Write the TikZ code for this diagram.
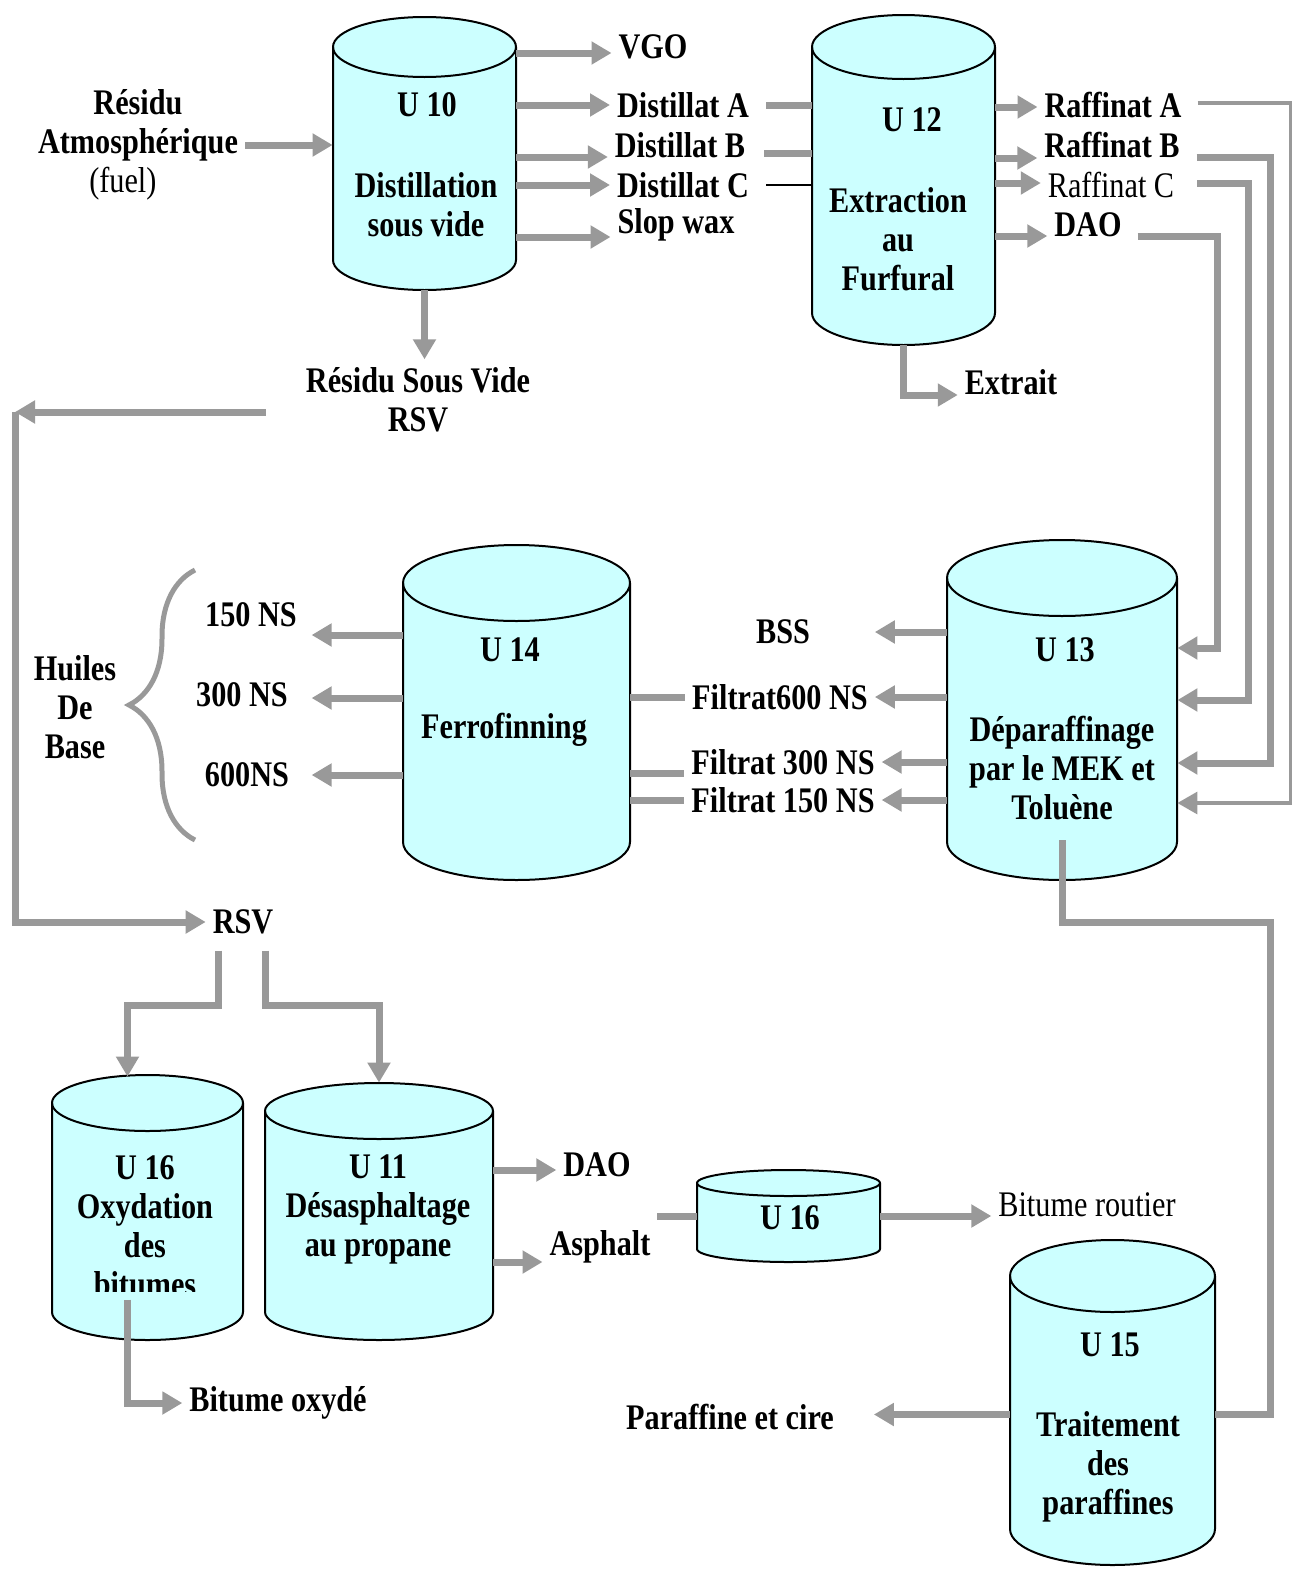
\documentclass[tikz,border=0pt]{standalone}
\usepackage{fontspec}
\setmainfont{Liberation Serif}
\usetikzlibrary{arrows.meta}
\usetikzlibrary{calc}
\usetikzlibrary{fit}
\usetikzlibrary{decorations.pathreplacing}

\definecolor{tankcyan}{HTML}{CCFFFF}
\definecolor{flowgrey}{HTML}{999999}

\tikzset{
  tank/.style={draw=black, line width=1pt, fill=tankcyan},
  lbl/.style={font=\fontsize{18}{19.5}\selectfont\bfseries, xscale=0.84, inner sep=4pt, align=center},
  lightlbl/.style={lbl, font=\fontsize{18}{19.5}\selectfont},
  pipe/.style={draw=flowgrey, line width=3.5pt},
  flow/.style={pipe, -{Triangle[length=10pt,width=11pt]}},
  thinflow/.style={draw=flowgrey, line width=1.6pt, -{Triangle[length=10pt,width=11pt]}},
}

% name, left, right, top, bottom, half height of the cap
\newcommand{\tank}[6]{%
  \node[fit={(#2,#4) (#3,#5)}, inner sep=0pt] (#1) {};
  \filldraw[tank] (#2,#4+#6) -- (#2,#5-#6)
    arc[start angle=180, end angle=0, x radius={(#3-#2)/2}, y radius=#6]
    -- (#3,#4+#6)
    arc[start angle=0, end angle=-180, x radius={(#3-#2)/2}, y radius=#6] -- cycle;
  \draw[tank, fill=none] (#2,#4+#6)
    arc[start angle=180, end angle=0, x radius={(#3-#2)/2}, y radius=#6];
}

\begin{document}
\begin{tikzpicture}[x=0.5pt,y=-0.5pt]
\useasboundingbox (0,0) rectangle (1294,1569);

% units
\tank{u10}{333}{516}{17}{290}{30}
\tank{u12}{812}{995}{15}{345}{32}
\tank{u14}{403}{630}{545}{880}{38}
\tank{u13}{947}{1177}{540}{880}{38}
\tank{u16a}{52}{243}{1075}{1340}{28}
\tank{u11}{265}{493}{1083}{1340}{28}
\tank{u16b}{697}{880}{1170}{1262}{13}
\tank{u15}{1010}{1215}{1240}{1565}{36}

\node[lbl] (n10) at (427,105) {U 10};
\node[lbl] (d10) at (426,205) {Distillation\\sous vide};
\node[lbl] (n12) at (912,120) {U 12};
\node[lbl] (d12) at (898,239) {Extraction\\au\\Furfural};
\node[lbl] (n14) at (510,650) {U 14};
\node[lbl] (d14) at (504,730) {Ferrofinning};
\node[lbl] (n13) at (1065,650) {U 13};
\node[lbl] (d13) at (1062,768) {Déparaffinage\\par le MEK et\\Toluène};
\begin{scope}
  \clip (52,1075) rectangle (243,1291);
  \node[lbl] (d16) at (145,1226) {U 16\\Oxydation\\des\\bitumes};
\end{scope}
\node[lbl] (d11) at (378,1209) {U 11\\Désasphaltage\\au propane};
\node[lbl] (n16) at (790,1218) {U 16};
\node[lbl] (n15) at (1110,1345) {U 15};
\node[lbl] (d15) at (1108,1467) {Traitement\\des\\paraffines};

% products and feeds
\node[lbl] (res) at (138,145) {Résidu\\Atmosphérique\\{\mdseries(fuel)}\hspace*{18pt}};
\node[lbl] (vgo) at (653,47) {VGO};
\node[lbl] (dista) at (683,105) {Distillat A};
\node[lbl] (distb) at (680,145) {Distillat B};
\node[lbl] (distc) at (683,185) {Distillat C};
\node[lbl] (slop) at (676,225) {Slop wax};
\node[lbl] (rafa) at (1113,105) {Raffinat A};
\node[lbl] (rafb) at (1112,145) {Raffinat B};
\node[lightlbl] (rafc) at (1111,185) {Raffinat C};
\node[lbl] (daou) at (1088,225) {DAO};
\node[lbl] (extrait) at (1011,382) {Extrait};
\node[lbl] (rsvtop) at (418,400) {Résidu Sous Vide\\RSV};
\node[lbl] (bss) at (783,632) {BSS};
\node[lbl] (f600) at (780,697) {Filtrat600 NS};
\node[lbl] (f300) at (783,762) {Filtrat 300 NS};
\node[lbl] (f150) at (783,800) {Filtrat 150 NS};
\node[lbl] (ns150) at (251,615) {150 NS};
\node[lbl] (ns300) at (242,695) {300 NS};
\node[lbl] (ns600) at (247,775) {600NS};
\node[lbl] (huiles) at (75,707) {Huiles\\De\\Base};
\node[lbl] (rsv) at (243,922) {RSV};
\node[lbl] (bitox) at (278,1403) {Bitume oxydé};
\node[lbl] (daob) at (597,1165) {DAO};
\node[lbl] (asph) at (600,1247) {Asphalt};
\node[lightlbl] (bitr) at (1087,1205) {Bitume routier};
\node[lbl] (paraf) at (730,1417) {Paraffine et cire};

% vacuum distillation
\draw[flow] (res.east) -- (u10.west |- res.east);
\foreach \lab/\dy in {vgo/6, dista/0, distb/12, distc/0, slop/12}
  \draw[flow] ($(u10.east |- \lab)+(0,\dy)$) -- ($(\lab.west)+(0,\dy)$);
\draw[flow] (u10.south) -- (u10.south |- rsvtop.north);

% furfural extraction
\draw[pipe] ($(dista.east)+(10,0)$) -- (u12.west |- dista);
\draw[pipe] ($(distb.east)+(12,8)$) -- ($(u12.west |- distb)+(0,8)$);
\draw[black, line width=0.8pt] ($(distc.east)+(10,0)$) -- (u12.west |- distc);
\foreach \lab/\dy in {rafa/2, rafb/13, rafc/-2, daou/11}
  \draw[flow] ($(u12.east |- \lab)+(0,\dy)$) -- ($(\lab.west)+(0,\dy)$);
\draw[flow] (u12.south) |- ($(extrait.west)+(0,13)$);

% dewaxing feeds
\draw[thinflow] ($(rafa.east)+(9,-2)$) -| ($(u13.east)+(113,93)$) -- ($(u13.east)+(0,93)$);
\draw[flow] ($(rafb.east)+(10,12)$) -| ($(u13.east)+(93,53)$) -- ($(u13.east)+(0,53)$);
\draw[flow] ($(rafc.east)+(16,-2)$) -| ($(u13.east)+(71,-10)$) -- ($(u13.east)+(0,-10)$);
\draw[flow] ($(daou.east)+(9,11)$) -| ($(u13.east)+(40,-62)$) -- ($(u13.east)+(0,-62)$);

% filtrates
\draw[flow] (u13.west |- bss) -- (f600.east |- bss);
\foreach \lab in {f600, f300, f150}
  \draw[flow] (u13.west |- \lab) -- (\lab.east);
\draw[pipe] (u14.east |- f600) -- (f600.west);
\draw[pipe] ($(u14.east |- f300)+(0,11)$) -- ($(f300.west)+(0,11)$);
\draw[pipe] (u14.east |- f150) -- (f150.west);

% base oils
\foreach \lab/\dy in {ns150/20, ns300/3, ns600/0}
  \draw[flow] ($(u14.west |- \lab)+(0,\dy)$) -- ++(-91,0);
\draw[flowgrey, line width=2.5pt, decorate, decoration={brace, amplitude=33pt}]
  (195,840) -- (195,570);

% vacuum residue
\coordinate (loop) at (15,412);
\draw[flow] ($(rsvtop.west)+(-33,12)$) -- (loop);
\draw[flow] (loop) |- (rsv.west);
\draw[flow] ($(rsv.south)+(-25,8)$) -- ++(0,55) -| ($(u16a.north)+(-20,2)$);
\draw[flow] ($(rsv.south)+(22,8)$) -- ++(0,55) -| (u11.north);
\draw[flow] ($(u16a.center)+(-20,92)$) |- (bitox.west);

% deasphalting
\draw[flow] ($(u11.east |- daob)+(0,5)$) -- ($(daob.west)+(0,5)$);
\draw[flow] ($(u11.east |- asph)+(0,15)$) -- ($(asph.west)+(0,15)$);
\draw[pipe] (u16b.west -| asph.east) -- (u16b.west);
\draw[flow] (u16b.east) -- (u16b.east -| bitr.west);

% paraffin treatment
\draw[pipe] ($(u13.center)+(0,130)$) -- ++(0,82) -| ($(u15.east)+(55,12)$) -- ($(u15.east)+(0,12)$);
\draw[flow] ($(u15.west)+(0,12)$) -- ($(paraf.east |- u15.west)+(33,12)$);
\end{tikzpicture}
\end{document}
